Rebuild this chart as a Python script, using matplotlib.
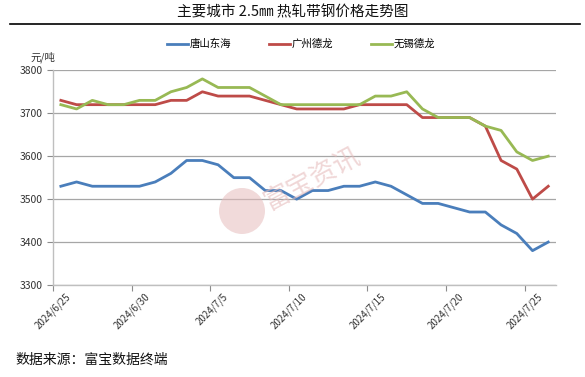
import matplotlib
matplotlib.use("Agg")
import matplotlib.pyplot as plt
from matplotlib.patches import Ellipse
import numpy as np

plt.rcParams["font.family"] = ["Noto Sans CJK SC", "DejaVu Sans"]

# daily prices, 2024/6/25 .. 2024/7/26 (yuan/ton)
dates = ["2024/6/%d" % d for d in range(25, 31)] + ["2024/7/%d" % d for d in range(1, 27)]
tangshan = [3530, 3540, 3530, 3530, 3530, 3530, 3540, 3560, 3590, 3590, 3580,
            3550, 3550, 3520, 3520, 3500, 3520, 3520, 3530, 3530, 3540, 3530,
            3510, 3490, 3490, 3480, 3470, 3470, 3440, 3420, 3380, 3400]
guangzhou = [3730, 3720, 3720, 3720, 3720, 3720, 3720, 3730, 3730, 3750, 3740,
             3740, 3740, 3730, 3720, 3710, 3710, 3710, 3710, 3720, 3720, 3720,
             3720, 3690, 3690, 3690, 3690, 3670, 3590, 3570, 3500, 3530]
wuxi = [3720, 3710, 3730, 3720, 3720, 3730, 3730, 3750, 3760, 3780, 3760,
        3760, 3760, 3740, 3720, 3720, 3720, 3720, 3720, 3720, 3740, 3740,
        3750, 3710, 3690, 3690, 3690, 3670, 3660, 3610, 3590, 3600]
series = [("唐山东海", tangshan, "#4a7ebb"),
          ("广州德龙", guangzhou, "#be4b48"),
          ("无锡德龙", wuxi, "#98b954")]
yticks = [3300, 3400, 3500, 3600, 3700, 3800]

fig = plt.figure(figsize=(5.85, 3.77), dpi=100)
ax = fig.add_axes([0.0906, 0.244, 0.860, 0.5695])

x = np.arange(len(dates))
handles = []
for name, vals, color in series:
    h, = ax.plot(x, vals, color=color, lw=2.0, label=name, solid_joinstyle="round")
    handles.append(h)

ax.set_xlim(-0.5, len(dates) - 0.5)
ax.set_ylim(3300, 3800)
ax.set_yticks(yticks)
ax.set_yticklabels([str(v) for v in yticks], fontsize=7.5, color="#333333")
ax.grid(axis="y", color="#a6a6a6", lw=0.9)
ax.set_axisbelow(True)

# ticks between categories, labels every 5 days
ax.set_xticks(np.arange(-0.5, len(dates), 5))
ax.set_xticklabels([])
for i in range(0, len(dates), 5):
    ax.text(i + 0.3, 3300 - 14, dates[i], rotation=45, ha="right", va="top",
            rotation_mode="anchor", fontsize=7, color="#333333",
            transform=ax.transData, clip_on=False)

for s in ["top", "right"]:
    ax.spines[s].set_visible(False)
for s in ["left", "bottom"]:
    ax.spines[s].set_color("#bfbfbf")
    ax.spines[s].set_linewidth(1.0)
ax.tick_params(axis="both", color="#8c8c8c", length=4, width=0.8)

# watermark
logo = Ellipse((242 / 585, 1 - 211 / 377), 46 / 585, 46 / 377,
               transform=fig.transFigure, color="#e6bcbc", alpha=0.55, lw=0)
fig.patches.append(logo)
fig.text(0.535, 0.525, "富宝资讯", fontsize=19, color="#e6bcbc", alpha=0.6,
         rotation=28, ha="center", va="center")

fig.text(0.5, 0.968, "主要城市 2.5㎜ 热轧带钢价格走势图", ha="center", va="center",
         fontsize=10.5, color="#111111")
fig.add_artist(plt.Line2D([0.017, 0.991], [0.937, 0.937], color="black", lw=1.2,
                          transform=fig.transFigure))
fig.legend(handles=handles, loc="center", bbox_to_anchor=(0.515, 0.883), ncol=3,
           frameon=False, fontsize=7.5, handlelength=2.0, columnspacing=3.6,
           handletextpad=0.2)
fig.text(0.052, 0.848, "元/吨", fontsize=7.5, color="#333333", ha="left", va="center")
fig.text(0.027, 0.045, "数据来源：富宝数据终端", fontsize=10, color="#111111",
         ha="left", va="center")

fig.savefig("out.png", dpi=100)
